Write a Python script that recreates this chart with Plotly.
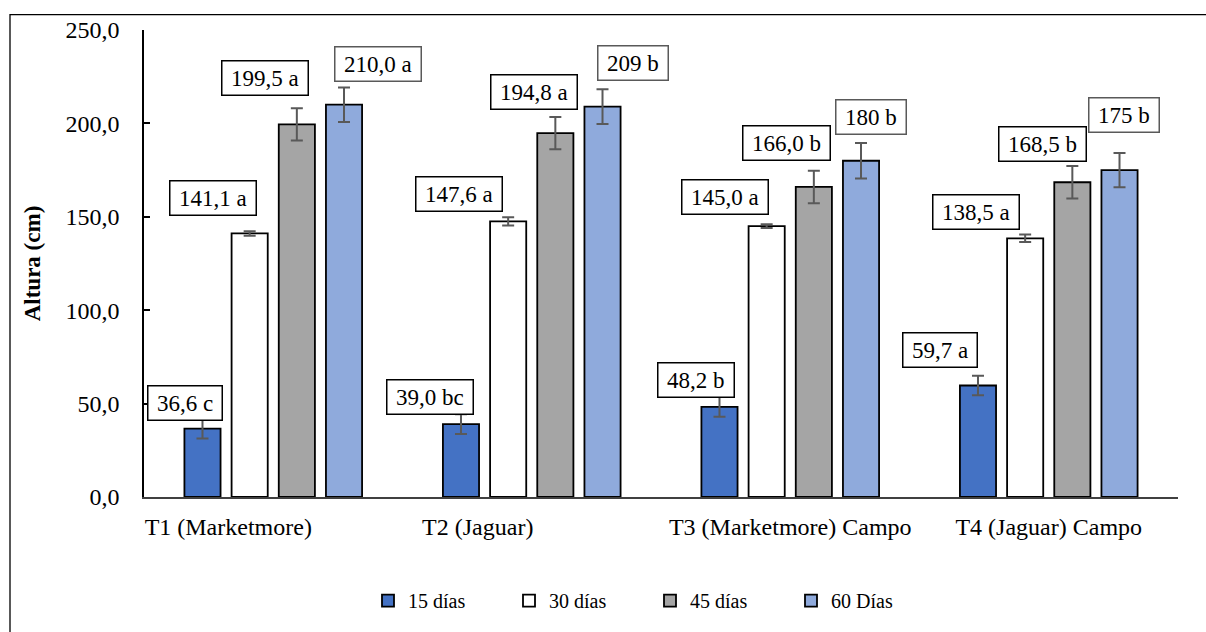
import plotly.graph_objects as go

# Treatments (x categories) and sampling dates (series)
categories = ["T1 (Marketmore)", "T2 (Jaguar)", "T3 (Marketmore) Campo", "T4 (Jaguar) Campo"]
series_names = ["15 días", "30 días", "45 días", "60 Días"]

# Mean plant height (cm) per treatment for each date
height_15 = [36.6, 39.0, 48.2, 59.7]
height_30 = [141.1, 147.6, 145.0, 138.5]
height_45 = [199.5, 194.8, 166.0, 168.5]
height_60 = [210.0, 209.0, 180.0, 175.0]

# Error bar half-lengths (cm)
err_15 = [5.3, 5.3, 5.3, 5.2]
err_30 = [1.2, 2.2, 1.0, 2.0]
err_45 = [8.6, 8.6, 8.7, 8.7]
err_60 = [9.2, 9.3, 9.5, 9.2]

# Mean-separation letters
letters_15 = ["c", "bc", "b", "a"]
letters_30 = ["a", "a", "a", "a"]
letters_45 = ["a", "a", "b", "b"]
letters_60 = ["a", "b", "b", "b"]

# Number of decimals shown in each value label
decimals_15 = [1, 1, 1, 1]
decimals_30 = [1, 1, 1, 1]
decimals_45 = [1, 1, 1, 1]
decimals_60 = [1, 0, 0, 0]

values = [height_15, height_30, height_45, height_60]
errors = [err_15, err_30, err_45, err_60]
letters = [letters_15, letters_30, letters_45, letters_60]
decimals = [decimals_15, decimals_30, decimals_45, decimals_60]

# ---- styling ----
FONT = "Liberation Serif, Times New Roman, serif"
fill_colors = ["#4472C4", "#FFFFFF", "#A5A5A5", "#8FAADC"]
label_border = ["#000000", "#000000", "#000000", "#595959"]
BARGAP = 0.27
BARGROUPGAP = 0.234

# label box offsets from the top of each bar, in pixels (dx, dy)
label_offsets = [
    [(-17, 26), (-31, 27), (-23, 27), (-38, 35)],
    [(-37, 35), (-49, 27), (-42, 29), (-49, 26)],
    [(-32, 46), (-21, 41), (-27, 44), (-30, 38)],
    [(34, 41), (30, 44), (10, 44), (4, 55)],
]

# trailing padding of the first two category labels
tick_pad = [15, 18, 0, 0]


def fmt(v, d):
    return f"{v:.{d}f}".replace(".", ",")


fig = go.Figure()
for j, name in enumerate(series_names):
    fig.add_trace(go.Bar(
        name=name,
        x=categories,
        y=values[j],
        marker=dict(color=fill_colors[j], line=dict(color="#000000", width=1.8)),
        error_y=dict(type="data", array=errors[j], visible=True,
                     color="#595959", thickness=2, width=6),
    ))

slot = (1 - BARGAP) / len(series_names)
annotations = []
for j in range(len(series_names)):
    for i in range(len(categories)):
        dx, dy = label_offsets[j][i]
        txt = "\u2009" + fmt(values[j][i], decimals[j][i]) + " " + letters[j][i] + "\u2009"
        annotations.append(dict(
            x=i + (j - 1.5) * slot, y=values[j][i], xref="x", yref="y",
            xshift=dx, yshift=dy, text=txt, showarrow=False,
            xanchor="center", yanchor="middle",
            font=dict(family=FONT, size=23, color="#000000"),
            bgcolor="#FFFFFF", bordercolor=label_border[j], borderwidth=1.5,
            borderpad=4,
        ))

ticktext = [c + "\u00a0" * n for c, n in zip(categories, tick_pad)]

fig.update_layout(
    barmode="group",
    bargap=BARGAP,
    bargroupgap=BARGROUPGAP,
    width=1206, height=632,
    margin=dict(l=144, r=28, t=30, b=133),
    paper_bgcolor="#FFFFFF",
    plot_bgcolor="#FFFFFF",
    separators=",.",
    font=dict(family=FONT, size=23, color="#000000"),
    xaxis=dict(
        type="category",
        tickmode="array", tickvals=categories, ticktext=ticktext,
        showline=True, linecolor="#404040", linewidth=1.5,
        ticks="", showgrid=False, zeroline=False,
        tickfont=dict(family=FONT, size=24, color="#000000"),
        ticklabelstandoff=7,
    ),
    yaxis=dict(
        range=[0, 250], dtick=50, tickformat=".1f",
        showline=True, linecolor="#000000", linewidth=1.5,
        ticks="inside", ticklen=6, tickwidth=1.5, tickcolor="#000000",
        showgrid=False, zeroline=False,
        tickfont=dict(family=FONT, size=24, color="#000000"),
        ticklabelstandoff=18,
        title=dict(text="<b>Altura (cm)</b>", standoff=18,
                   font=dict(family=FONT, size=23, color="#000000")),
    ),
    legend=dict(
        orientation="h",
        x=(368 - 144) / 1034, xanchor="left",
        y=(499 - 603) / 469, yanchor="middle",
        font=dict(family=FONT, size=20, color="#000000"),
        itemwidth=30,
        entrywidth=96, entrywidthmode="pixels",
        bgcolor="rgba(0,0,0,0)",
    ),
    annotations=annotations,
    shapes=[dict(
        type="rect", xref="paper", yref="paper",
        x0=(10 - 144) / 1034, x1=1.2,
        y0=-0.5, y1=(499 - 14.5) / 469,
        line=dict(color="#000000", width=1.3), fillcolor="rgba(0,0,0,0)",
        layer="below",
    )],
)

fig.write_html("out.html")
